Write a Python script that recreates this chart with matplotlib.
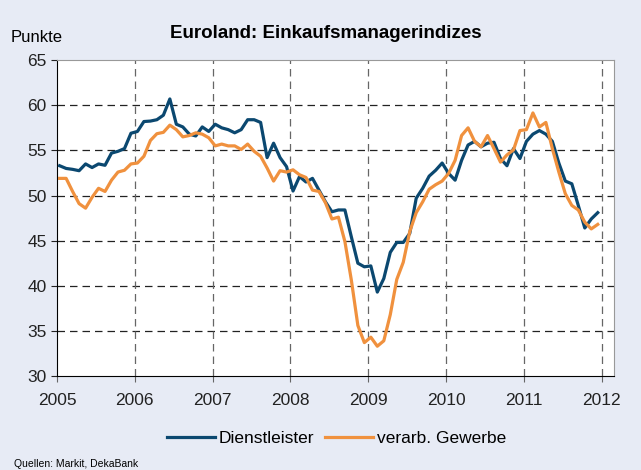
import numpy as np
import matplotlib
matplotlib.use('Agg')
import matplotlib.pyplot as plt

plt.rcParams['font.family'] = ['Liberation Sans', 'DejaVu Sans']

# monthly values, Jan 2005 - Dec 2011
dienst = [53.3, 53.0, 52.9, 52.75, 53.5, 53.1, 53.5, 53.35, 54.7, 54.9, 55.2, 56.9,
          57.1, 58.2, 58.25, 58.4, 58.9, 60.7, 57.9, 57.6, 56.8, 56.6, 57.6, 57.1,
          57.9, 57.5, 57.3, 56.95, 57.3, 58.4, 58.4, 58.1, 54.2, 55.8, 54.2, 53.2,
          50.5, 52.1, 51.5, 51.9, 50.6, 49.3, 48.2, 48.4, 48.4, 45.4, 42.5, 42.1,
          42.2, 39.3, 40.8, 43.7, 44.8, 44.8, 45.8, 49.7, 50.8, 52.15, 52.8, 53.6,
          52.45, 51.7, 53.9, 55.6, 56.0, 55.4, 55.8, 55.9, 54.1, 53.3, 55.2, 54.1,
          56.0, 56.8, 57.2, 56.8, 56.0, 53.6, 51.6, 51.3, 48.9, 46.4, 47.4, 48.1]
gewerbe = [51.9, 51.9, 50.45, 49.1, 48.6, 49.8, 50.8, 50.45, 51.7, 52.6, 52.8, 53.5,
           53.6, 54.35, 56.1, 56.85, 57.0, 57.8, 57.3, 56.5, 56.65, 56.95, 56.8, 56.4,
           55.5, 55.7, 55.5, 55.5, 55.1, 55.7, 54.9, 54.35, 53.05, 51.6, 52.75, 52.6,
           52.85, 52.3, 52.0, 50.6, 50.45, 49.2, 47.4, 47.6, 44.9, 40.6, 35.6, 33.7,
           34.3, 33.3, 33.9, 36.8, 40.7, 42.6, 46.0, 48.1, 49.3, 50.7, 51.2, 51.6,
           52.45, 53.9, 56.65, 57.5, 56.0, 55.4, 56.65, 55.2, 53.7, 54.5, 55.05, 57.2,
           57.3, 59.15, 57.6, 58.1, 55.2, 52.6, 50.2, 48.9, 48.4, 47.05, 46.3, 46.8]
years = list(range(2005, 2013))

x = 2005 + (np.arange(len(dienst)) + 0.4) / 12.0

bg = '#E7EBF5'
blue = '#0B4870'
orange = '#F0913E'

fig = plt.figure(figsize=(6.41, 4.70), dpi=100, facecolor=bg)
ax = fig.add_axes([0.089, 0.2, 0.869, 0.672])
ax.set_facecolor('white')

ax.plot(x, dienst, color=blue, linewidth=2.3, label='Dienstleister', zorder=3)
ax.plot(x, gewerbe, color=orange, linewidth=2.3, label='verarb. Gewerbe', zorder=3)

ax.set_xlim(2005, 2012.16)
ax.set_ylim(30, 65)
ax.set_yticks(range(30, 66, 5))
ax.set_xticks(years)
ax.tick_params(axis='both', labelsize=12.5, direction='out', length=4, colors='#222222')
ax.tick_params(axis='x', pad=8, color='#666666')

for v in range(35, 65, 5):
    ax.axhline(v, color='#222222', linewidth=0.9, dashes=(6, 4), zorder=1)
for yr in years[1:]:
    ax.axvline(yr, color='#666666', linewidth=0.9, dashes=(6, 4), zorder=1)

ax.spines['left'].set_color('black')
ax.spines['bottom'].set_color('black')
ax.spines['top'].set_color('#999999')
ax.spines['right'].set_color('#999999')

fig.text(0.508, 0.928, 'Euroland: Einkaufsmanagerindizes', ha='center', va='center',
         fontsize=13.5, fontweight='bold')
fig.text(0.016, 0.92, 'Punkte', ha='left', va='center', fontsize=12)
fig.text(0.022, 0.012, 'Quellen: Markit, DekaBank', ha='left', va='center', fontsize=7.5)

fig.legend(loc='center', bbox_to_anchor=(0.525, 0.068), ncol=2, frameon=False,
           fontsize=12.5, handlelength=2.8, handletextpad=0.2, columnspacing=0.6)

fig.savefig('out.png', dpi=100, facecolor=bg)
